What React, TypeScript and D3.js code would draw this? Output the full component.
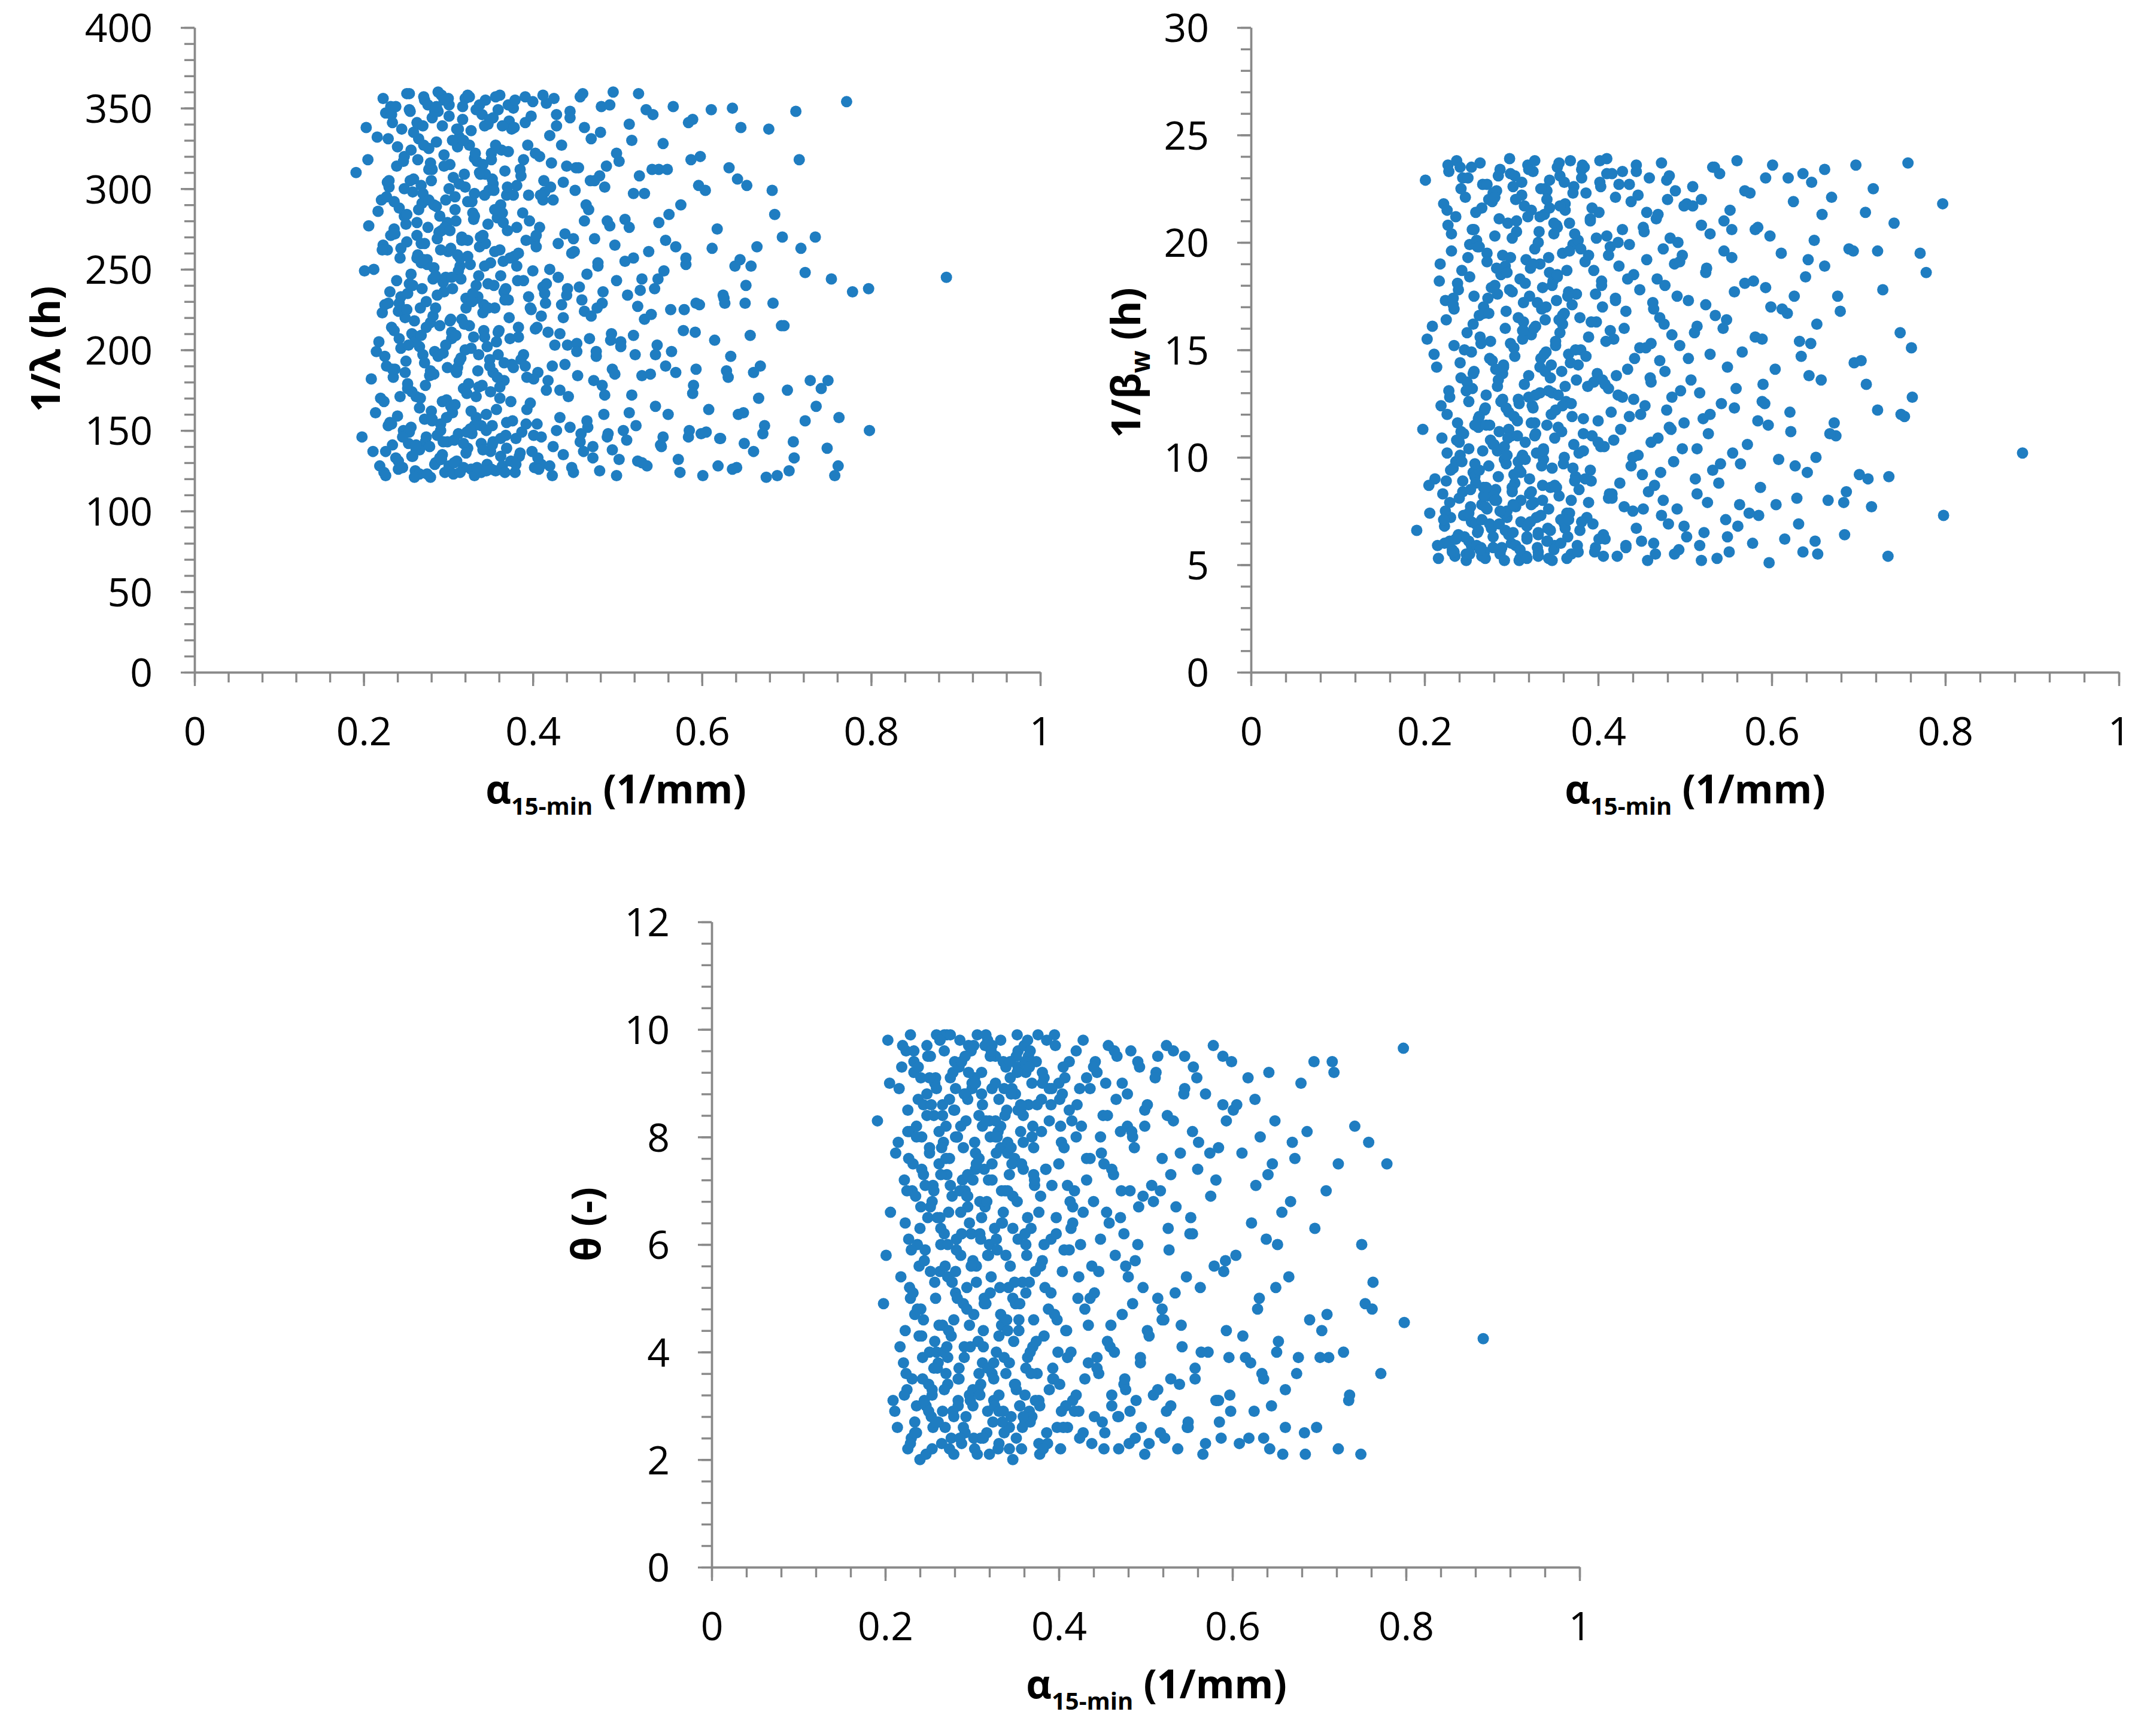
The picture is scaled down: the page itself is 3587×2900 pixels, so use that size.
import React, { useEffect, useRef } from "react";
import * as d3 from "d3";

// alpha 15-min (1/mm), one value per sample (shared by all three panels)
const alphaMin15 = [
  0.191, 0.198, 0.203, 0.206, 0.209, 0.212, 0.214, 0.216, 0.218, 0.219, 0.221, 0.222, 0.223, 0.224, 0.226, 0.227, 0.228, 0.229, 0.231, 0.232,
  0.201, 0.205, 0.211, 0.215, 0.217, 0.220, 0.223, 0.225, 0.226, 0.228, 0.230, 0.231, 0.233, 0.234, 0.235, 0.236, 0.238, 0.239, 0.240, 0.242,
  0.224, 0.227, 0.229, 0.232, 0.234, 0.236, 0.237, 0.239, 0.241, 0.243, 0.244, 0.245, 0.247, 0.248, 0.249, 0.251, 0.252, 0.254, 0.255, 0.257,
  0.233, 0.236, 0.240, 0.242, 0.244, 0.246, 0.248, 0.250, 0.251, 0.253, 0.254, 0.256, 0.257, 0.259, 0.260, 0.262, 0.263, 0.265, 0.266, 0.268,
  0.241, 0.244, 0.247, 0.249, 0.252, 0.254, 0.256, 0.258, 0.259, 0.261, 0.263, 0.264, 0.266, 0.267, 0.269, 0.270, 0.272, 0.273, 0.275, 0.277,
  0.251, 0.254, 0.257, 0.259, 0.262, 0.264, 0.266, 0.268, 0.269, 0.271, 0.272, 0.274, 0.276, 0.277, 0.279, 0.280, 0.281, 0.283, 0.284, 0.286,
  0.261, 0.263, 0.266, 0.268, 0.270, 0.272, 0.274, 0.276, 0.278, 0.279, 0.281, 0.282, 0.284, 0.286, 0.287, 0.289, 0.290, 0.292, 0.293, 0.295,
  0.271, 0.273, 0.275, 0.278, 0.280, 0.282, 0.284, 0.285, 0.287, 0.288, 0.290, 0.291, 0.293, 0.294, 0.296, 0.297, 0.299, 0.300, 0.302, 0.304,
  0.281, 0.283, 0.285, 0.288, 0.290, 0.292, 0.294, 0.295, 0.297, 0.298, 0.300, 0.301, 0.303, 0.304, 0.306, 0.307, 0.309, 0.310, 0.312, 0.314,
  0.291, 0.293, 0.295, 0.297, 0.299, 0.301, 0.303, 0.305, 0.306, 0.308, 0.309, 0.311, 0.312, 0.314, 0.316, 0.317, 0.318, 0.320, 0.321, 0.323,
  0.301, 0.303, 0.305, 0.308, 0.310, 0.312, 0.313, 0.315, 0.316, 0.318, 0.319, 0.321, 0.323, 0.324, 0.326, 0.327, 0.328, 0.330, 0.331, 0.333,
  0.311, 0.313, 0.315, 0.318, 0.320, 0.322, 0.323, 0.325, 0.327, 0.328, 0.330, 0.331, 0.333, 0.334, 0.336, 0.337, 0.339, 0.340, 0.342, 0.343,
  0.321, 0.323, 0.325, 0.327, 0.329, 0.331, 0.333, 0.334, 0.336, 0.338, 0.339, 0.341, 0.342, 0.344, 0.345, 0.347, 0.348, 0.350, 0.351, 0.353,
  0.331, 0.333, 0.335, 0.337, 0.339, 0.341, 0.343, 0.344, 0.346, 0.347, 0.349, 0.350, 0.352, 0.353, 0.355, 0.356, 0.358, 0.359, 0.361, 0.362,
  0.341, 0.343, 0.345, 0.347, 0.349, 0.351, 0.352, 0.354, 0.356, 0.357, 0.359, 0.360, 0.362, 0.363, 0.365, 0.366, 0.368, 0.369, 0.371, 0.372,
  0.351, 0.353, 0.355, 0.357, 0.359, 0.361, 0.362, 0.364, 0.366, 0.367, 0.369, 0.370, 0.372, 0.374, 0.375, 0.377, 0.378, 0.380, 0.381, 0.383,
  0.361, 0.364, 0.367, 0.369, 0.371, 0.373, 0.375, 0.377, 0.379, 0.381, 0.383, 0.385, 0.387, 0.389, 0.391, 0.393, 0.395, 0.397, 0.399, 0.402,
  0.381, 0.384, 0.386, 0.389, 0.391, 0.393, 0.396, 0.398, 0.400, 0.402, 0.404, 0.406, 0.408, 0.410, 0.412, 0.414, 0.416, 0.418, 0.420, 0.423,
  0.401, 0.403, 0.405, 0.408, 0.410, 0.412, 0.414, 0.416, 0.418, 0.420, 0.422, 0.424, 0.426, 0.428, 0.430, 0.432, 0.434, 0.436, 0.438, 0.441,
  0.421, 0.423, 0.425, 0.428, 0.430, 0.432, 0.434, 0.436, 0.438, 0.440, 0.442, 0.444, 0.446, 0.448, 0.450, 0.452, 0.454, 0.456, 0.458, 0.461,
  0.441, 0.444, 0.446, 0.449, 0.451, 0.453, 0.455, 0.457, 0.459, 0.461, 0.463, 0.465, 0.467, 0.469, 0.471, 0.473, 0.475, 0.477, 0.479, 0.482,
  0.461, 0.464, 0.466, 0.469, 0.471, 0.473, 0.475, 0.477, 0.479, 0.481, 0.483, 0.485, 0.487, 0.489, 0.491, 0.493, 0.495, 0.497, 0.499, 0.502,
  0.482, 0.485, 0.488, 0.491, 0.494, 0.497, 0.499, 0.502, 0.504, 0.507, 0.509, 0.512, 0.514, 0.517, 0.519, 0.521, 0.524, 0.526, 0.529, 0.532,
  0.511, 0.514, 0.517, 0.519, 0.522, 0.525, 0.527, 0.529, 0.532, 0.535, 0.537, 0.540, 0.542, 0.545, 0.547, 0.549, 0.552, 0.555, 0.557, 0.561,
  0.541, 0.545, 0.548, 0.551, 0.554, 0.557, 0.560, 0.563, 0.566, 0.569, 0.572, 0.575, 0.578, 0.581, 0.584, 0.587, 0.590, 0.593, 0.596, 0.599,
  0.581, 0.585, 0.589, 0.593, 0.597, 0.601, 0.604, 0.608, 0.611, 0.615, 0.618, 0.622, 0.625, 0.629, 0.632, 0.636, 0.639, 0.643, 0.646, 0.651,
  0.621, 0.626, 0.631, 0.636, 0.641, 0.645, 0.649, 0.653, 0.657, 0.661, 0.665, 0.669, 0.674, 0.679, 0.684, 0.689, 0.695, 0.701, 0.708, 0.715,
  0.652, 0.661, 0.672, 0.683, 0.694, 0.703, 0.711, 0.717, 0.722, 0.728, 0.734, 0.741, 0.748, 0.753, 0.757, 0.762, 0.771, 0.778, 0.797, 0.889,
  0.222, 0.226, 0.230, 0.234, 0.238, 0.242, 0.246, 0.250, 0.253, 0.256, 0.260, 0.263, 0.267, 0.270, 0.274, 0.277, 0.281, 0.285, 0.288, 0.292,
  0.225, 0.229, 0.233, 0.237, 0.241, 0.245, 0.248, 0.252, 0.255, 0.258, 0.262, 0.265, 0.268, 0.272, 0.275, 0.279, 0.283, 0.287, 0.291, 0.295,
  0.296, 0.299, 0.302, 0.305, 0.308, 0.311, 0.314, 0.317, 0.320, 0.323, 0.326, 0.329, 0.332, 0.335, 0.338, 0.341, 0.344, 0.347, 0.350, 0.353,
  0.298, 0.301, 0.304, 0.307, 0.310, 0.313, 0.316, 0.319, 0.322, 0.325, 0.328, 0.331, 0.334, 0.337, 0.340, 0.343, 0.346, 0.349, 0.352, 0.355,
  0.356, 0.359, 0.362, 0.365, 0.368, 0.371, 0.374, 0.377, 0.380, 0.383, 0.386, 0.389, 0.392, 0.395, 0.398, 0.401, 0.404, 0.407, 0.410, 0.413,
  0.358, 0.361, 0.364, 0.367, 0.370, 0.373, 0.376, 0.379, 0.382, 0.385, 0.388, 0.391, 0.394, 0.397, 0.400, 0.403, 0.406, 0.409, 0.412, 0.415,
  0.416, 0.420, 0.424, 0.428, 0.432, 0.436, 0.440, 0.444, 0.448, 0.452, 0.456, 0.460, 0.464, 0.468, 0.472, 0.476, 0.480, 0.484, 0.488, 0.492,
  0.494, 0.499, 0.504, 0.509, 0.514, 0.519, 0.524, 0.529, 0.534, 0.539, 0.544, 0.549, 0.554, 0.559, 0.564, 0.569, 0.574, 0.579, 0.584, 0.589,
  0.236, 0.243, 0.251, 0.258, 0.264, 0.271, 0.279, 0.286, 0.294, 0.302, 0.309, 0.318, 0.327, 0.336, 0.345, 0.354, 0.366, 0.378, 0.392, 0.405,
  0.592, 0.598, 0.605, 0.612, 0.619, 0.627, 0.634, 0.642, 0.650, 0.658, 0.667, 0.676, 0.686, 0.697, 0.709, 0.722, 0.735, 0.749, 0.761, 0.798,
];

// 1/lambda (h)
const invLambda = [
  310, 146, 338, 277, 182, 250, 161, 332, 205, 128, 293, 223, 265, 124, 347, 190, 304, 153, 236, 271,
  249, 318, 137, 199, 286, 170, 356, 228, 122, 262, 301, 155, 214, 341, 183, 275, 133, 243, 326, 207,
  168, 295, 229, 351, 141, 272, 188, 314, 126, 257, 201, 337, 150, 283, 220, 359, 176, 241, 305, 134,
  346, 212, 159, 288, 233, 127, 320, 193, 267, 142, 359, 247, 174, 306, 218, 138, 279, 331, 202, 254,
  131, 263, 317, 186, 235, 349, 152, 298, 209, 125, 271, 340, 164, 226, 291, 197, 355, 143, 256, 312,
  284, 149, 210, 335, 171, 259, 123, 302, 238, 357, 192, 146, 276, 325, 217, 162, 344, 251, 129, 289,
  205, 341, 138, 266, 297, 157, 230, 352, 184, 121, 312, 244, 199, 329, 147, 273, 215, 358, 168, 236,
  327, 178, 253, 140, 305, 221, 348, 130, 269, 196, 283, 154, 339, 242, 124, 293, 189, 261, 315, 207,
  156, 290, 226, 348, 133, 274, 198, 321, 245, 169, 356, 128, 263, 211, 307, 144, 280, 186, 337, 252,
  262, 135, 314, 203, 279, 352, 165, 238, 123, 295, 187, 326, 148, 257, 219, 343, 176, 301, 232, 139,
  345, 219, 161, 287, 131, 249, 332, 195, 270, 142, 309, 226, 358, 179, 253, 126, 292, 208, 319, 158,
  189, 303, 244, 127, 356, 173, 268, 215, 336, 148, 281, 122, 240, 317, 197, 264, 153, 346, 228, 296,
  136, 258, 327, 201, 285, 153, 349, 232, 177, 309, 124, 271, 212, 355, 160, 241, 299, 137, 322, 186,
  297, 171, 233, 352, 142, 315, 208, 266, 129, 340, 190, 254, 153, 303, 226, 125, 282, 197, 358, 246,
  223, 339, 150, 278, 194, 126, 306, 240, 357, 163, 287, 212, 134, 324, 255, 181, 147, 296, 231, 342,
  318, 143, 261, 205, 349, 177, 290, 128, 236, 311, 155, 274, 220, 131, 337, 189, 258, 145, 302, 214,
  170, 285, 231, 139, 323, 257, 191, 350, 124, 276, 208, 312, 149, 243, 357, 183, 296, 226, 137, 268,
  252, 134, 308, 197, 341, 163, 280, 225, 354, 127, 264, 186, 320, 146, 239, 298, 175, 211, 333, 122,
  147, 322, 214, 276, 129, 293, 235, 353, 181, 250, 316, 140, 203, 339, 266, 158, 228, 304, 191, 238,
  301, 190, 356, 150, 245, 210, 327, 135, 272, 234, 171, 348, 260, 124, 299, 204, 313, 143, 231, 280,
  203, 344, 127, 261, 313, 184, 239, 148, 359, 224, 290, 152, 207, 331, 133, 269, 196, 252, 308, 178,
  338, 156, 287, 221, 140, 305, 199, 254, 125, 351, 236, 172, 314, 148, 277, 210, 360, 185, 243, 132,
  229, 301, 146, 352, 188, 265, 122, 317, 205, 150, 281, 234, 340, 172, 257, 197, 131, 308, 244, 219,
  144, 276, 330, 209, 153, 359, 237, 184, 297, 128, 261, 222, 346, 165, 203, 312, 140, 249, 190, 284,
  312, 197, 244, 141, 328, 268, 160, 225, 351, 186, 132, 290, 212, 253, 146, 318, 178, 229, 302, 148,
  257, 150, 343, 188, 228, 122, 299, 163, 349, 206, 275, 145, 234, 187, 313, 126, 252, 160, 338, 229,
  145, 232, 183, 350, 127, 256, 161, 302, 209, 137, 264, 190, 153, 337, 229, 122, 270, 175, 143, 318,
  240, 186, 148, 299, 215, 125, 348, 263, 156, 181, 270, 176, 139, 244, 122, 158, 354, 236, 238, 245,
  262, 137, 305, 188, 351, 229, 146, 278, 203, 324, 121, 257, 170, 339, 214, 293, 157, 246, 360, 132,
  196, 331, 154, 272, 224, 127, 300, 179, 348, 240, 141, 287, 209, 266, 123, 316, 185, 234, 150, 355,
  276, 143, 218, 330, 166, 259, 124, 351, 200, 292, 151, 235, 322, 187, 270, 138, 309, 226, 174, 344,
  158, 300, 245, 130, 337, 193, 268, 216, 149, 357, 230, 283, 127, 310, 178, 252, 202, 343, 141, 287,
  327, 211, 145, 279, 238, 352, 168, 296, 129, 260, 194, 318, 154, 233, 345, 182, 271, 126, 221, 305,
  183, 262, 339, 124, 301, 207, 156, 355, 243, 136, 285, 190, 327, 167, 249, 213, 133, 296, 358, 229,
  241, 128, 293, 346, 175, 220, 314, 152, 269, 199, 357, 137, 247, 305, 181, 226, 335, 160, 280, 206,
  138, 322, 202, 255, 161, 297, 227, 130, 349, 185, 238, 279, 146, 312, 199, 264, 124, 225, 341, 173,
  292, 171, 225, 134, 318, 256, 187, 351, 143, 274, 209, 330, 162, 246, 125, 299, 192, 338, 268, 154,
  211, 320, 149, 263, 128, 229, 196, 306, 142, 252, 170, 121, 284, 215, 133, 248, 165, 181, 128, 150,
];

// 1/beta_w (h)
const invBetaW = [
  6.6, 11.3, 15.5, 7.4, 16.1, 9.0, 14.2, 5.3, 19.0, 12.4, 8.3, 21.8, 6.0, 17.3, 10.2, 23.6, 13.1, 7.9, 20.4, 5.6,
  22.9, 8.7, 14.8, 5.9, 18.2, 10.9, 6.8, 16.4, 12.0, 23.3, 7.2, 19.6, 9.5, 15.2, 5.4, 21.2, 11.6, 17.8, 8.1, 13.7,
  7.5, 20.8, 12.8, 5.7, 16.9, 9.8, 23.8, 6.4, 14.4, 18.7, 8.9, 11.1, 22.1, 5.2, 15.8, 10.4, 19.9, 7.0, 13.2, 17.5,
  17.1, 6.2, 10.7, 22.5, 8.4, 15.0, 5.5, 19.3, 12.6, 7.7, 23.5, 9.3, 14.0, 6.9, 20.1, 11.8, 16.6, 5.8, 21.6, 8.6,
  10.1, 23.0, 7.3, 13.5, 18.4, 5.9, 16.2, 9.1, 21.4, 6.5, 11.9, 15.6, 7.8, 22.7, 12.2, 5.3, 19.5, 8.2, 14.6, 17.9,
  6.1, 14.9, 20.6, 8.8, 11.4, 23.7, 7.1, 17.0, 5.6, 12.9, 19.1, 9.6, 15.4, 6.7, 22.3, 10.6, 18.0, 8.0, 13.3, 21.1,
  19.8, 9.4, 5.4, 16.7, 12.3, 7.6, 22.0, 10.8, 14.5, 6.3, 20.3, 8.5, 17.6, 11.2, 23.4, 5.8, 13.9, 9.9, 18.9, 7.2,
  11.5, 17.4, 6.9, 21.9, 8.2, 14.1, 10.3, 23.1, 5.5, 18.5, 12.7, 7.4, 16.0, 9.7, 20.9, 6.4, 15.3, 11.0, 22.6, 8.8,
  8.0, 22.4, 13.6, 5.7, 19.4, 10.5, 16.8, 7.5, 12.1, 23.9, 6.0, 17.7, 9.2, 14.7, 21.0, 11.7, 5.2, 18.3, 10.0, 15.9,
  14.3, 6.6, 18.6, 11.3, 23.2, 8.6, 15.1, 5.9, 20.5, 9.8, 12.5, 7.0, 22.2, 16.3, 10.7, 19.2, 6.2, 13.8, 8.3, 21.5,
  20.2, 11.9, 7.7, 16.5, 5.3, 22.8, 10.1, 13.4, 18.1, 6.8, 23.6, 9.0, 15.7, 12.4, 7.9, 19.7, 11.1, 17.2, 5.6, 14.2,
  9.3, 15.5, 21.7, 6.3, 12.8, 18.8, 8.4, 23.3, 11.6, 16.1, 5.8, 20.0, 13.0, 7.3, 17.9, 10.4, 22.5, 14.9, 6.7, 19.3,
  17.5, 7.8, 12.3, 23.8, 10.2, 5.4, 19.0, 14.6, 8.7, 21.3, 16.4, 11.5, 6.1, 22.9, 13.7, 9.5, 18.2, 5.9, 15.2, 20.7,
  6.5, 21.2, 16.9, 9.9, 14.0, 22.4, 7.6, 18.6, 12.0, 5.2, 20.4, 10.9, 17.3, 23.5, 8.2, 15.8, 11.2, 19.5, 6.9, 13.3,
  22.0, 13.1, 8.6, 18.0, 5.7, 15.4, 20.8, 11.4, 23.1, 7.1, 16.6, 9.7, 21.8, 12.6, 6.3, 17.7, 14.4, 8.0, 19.9, 10.6,
  12.2, 18.4, 23.7, 6.0, 16.2, 10.0, 21.5, 7.4, 14.8, 19.6, 5.5, 17.1, 22.6, 9.1, 13.6, 20.1, 8.5, 15.0, 23.0, 11.8,
  16.7, 5.3, 20.9, 12.5, 22.3, 8.9, 17.6, 14.3, 6.6, 23.4, 10.3, 19.1, 7.2, 15.6, 21.0, 11.0, 18.7, 5.8, 13.9, 23.8,
  7.0, 23.5, 14.7, 19.4, 9.4, 21.6, 5.6, 16.3, 11.7, 22.8, 18.2, 6.4, 13.4, 20.3, 8.1, 15.9, 23.2, 10.8, 17.4, 12.9,
  21.4, 10.5, 17.0, 6.2, 23.9, 13.2, 19.8, 8.3, 15.5, 22.1, 5.4, 18.9, 11.3, 20.6, 7.7, 16.8, 14.1, 22.7, 9.6, 12.7,
  13.8, 20.0, 8.8, 23.3, 16.0, 5.9, 18.3, 11.9, 21.9, 7.5, 14.6, 23.6, 10.1, 17.8, 6.1, 20.7, 12.4, 19.2, 8.4, 15.3,
  18.5, 6.7, 22.2, 12.0, 9.2, 20.5, 15.1, 5.2, 23.0, 13.5, 17.2, 8.7, 21.1, 10.9, 16.5, 7.3, 19.7, 14.0, 22.9, 11.4,
  10.7, 16.9, 5.5, 21.3, 14.5, 23.7, 8.0, 18.0, 12.2, 6.9, 20.2, 15.7, 9.8, 22.4, 17.5, 5.7, 13.1, 19.4, 11.6, 21.8,
  23.1, 12.8, 19.0, 7.6, 15.2, 10.4, 21.7, 6.3, 17.3, 13.6, 22.6, 9.0, 16.1, 5.9, 20.8, 11.8, 18.6, 7.9, 14.8, 23.5,
  15.8, 8.3, 13.0, 22.0, 6.5, 18.8, 11.1, 20.4, 9.4, 16.6, 5.3, 23.2, 12.5, 19.6, 7.1, 14.2, 21.5, 10.2, 17.7, 6.8,
  9.7, 21.0, 16.4, 5.6, 19.3, 12.3, 23.8, 7.8, 14.9, 18.1, 10.6, 22.3, 6.0, 15.6, 20.7, 8.6, 13.4, 23.0, 11.5, 17.0,
  20.6, 7.3, 12.6, 17.9, 5.1, 23.6, 14.1, 9.9, 19.5, 6.2, 16.7, 11.2, 21.9, 8.1, 15.4, 5.6, 18.4, 13.8, 22.8, 10.0,
  12.1, 17.5, 6.9, 23.2, 9.3, 15.3, 20.1, 5.5, 13.6, 18.9, 8.0, 22.1, 11.0, 16.8, 6.4, 19.7, 14.4, 9.2, 21.4, 7.7,
  16.2, 23.4, 11.6, 7.9, 19.6, 14.5, 9.0, 22.5, 12.2, 17.8, 5.4, 20.9, 15.8, 11.9, 23.7, 12.8, 19.5, 18.6, 21.8, 10.2,
  7.1, 21.5, 9.4, 5.6, 18.1, 11.2, 6.3, 23.0, 8.5, 13.9, 5.9, 19.8, 10.3, 7.7, 16.7, 6.8, 22.1, 9.1, 12.6, 5.2,
  8.9, 6.1, 17.4, 10.8, 23.5, 7.3, 13.1, 5.5, 20.6, 9.7, 6.6, 15.3, 8.2, 22.7, 11.5, 5.8, 18.8, 7.5, 14.2, 10.1,
  10.9, 19.3, 6.5, 22.0, 12.7, 8.0, 17.2, 5.4, 23.4, 11.6, 16.0, 7.2, 20.5, 9.6, 14.8, 6.1, 21.6, 13.0, 8.7, 18.5,
  17.8, 8.4, 23.1, 11.0, 5.7, 15.9, 9.9, 21.2, 7.0, 19.0, 12.9, 6.4, 22.5, 10.3, 17.0, 5.3, 14.3, 20.9, 8.6, 16.4,
  21.7, 12.4, 6.7, 17.5, 23.8, 9.5, 15.0, 5.6, 19.7, 11.1, 22.3, 7.9, 16.3, 13.5, 20.2, 6.2, 18.0, 10.5, 23.2, 8.3,
  14.0, 22.8, 18.7, 7.4, 11.9, 20.4, 5.9, 16.5, 23.6, 9.0, 13.3, 21.1, 6.9, 17.6, 10.7, 22.6, 5.4, 15.4, 19.4, 12.1,
  8.1, 17.3, 22.7, 12.8, 5.8, 19.9, 10.0, 23.3, 15.1, 7.6, 21.4, 13.7, 6.0, 18.3, 9.3, 16.2, 22.0, 11.3, 5.5, 20.0,
  19.1, 6.8, 14.6, 21.7, 10.4, 5.2, 17.1, 12.0, 23.5, 8.8, 16.0, 6.3, 20.6, 13.2, 9.7, 22.4, 7.4, 18.2, 11.7, 15.5,
  6.2, 9.8, 7.4, 11.5, 5.7, 8.6, 10.6, 6.9, 12.3, 7.8, 9.4, 5.3, 11.0, 8.0, 6.6, 12.9, 7.1, 10.2, 8.9, 13.6,
  12.5, 20.3, 7.8, 16.9, 23.0, 9.6, 14.7, 19.2, 6.1, 21.3, 11.1, 17.5, 8.4, 23.6, 13.4, 19.6, 9.1, 12.0, 15.1, 7.3,
];

// theta (-)
const thetaVals = [
  8.3, 4.9, 9.8, 6.6, 3.1, 7.7, 2.6, 8.9, 5.4, 9.3, 3.8, 7.2, 4.4, 9.6, 2.2, 6.1, 8.1, 5.0, 3.5, 7.5,
  5.8, 9.0, 2.9, 7.9, 4.1, 9.7, 6.4, 3.3, 8.5, 5.2, 2.4, 7.0, 9.4, 4.7, 6.9, 3.0, 8.7, 5.6, 2.0, 7.4,
  3.6, 7.6, 9.9, 5.1, 2.7, 8.2, 6.0, 4.3, 9.1, 3.9, 7.3, 5.7, 2.1, 8.8, 6.5, 4.0, 9.5, 3.2, 7.1, 5.3,
  9.2, 2.5, 6.3, 8.0, 4.6, 5.9, 9.7, 3.4, 7.8, 2.8, 6.8, 8.4, 4.2, 9.9, 3.7, 7.5, 5.5, 2.3, 8.6, 6.2,
  4.8, 8.6, 3.0, 9.5, 6.7, 2.2, 7.0, 5.0, 8.9, 3.8, 9.8, 6.0, 4.5, 7.9, 2.6, 8.2, 3.4, 6.6, 9.1, 5.3,
  7.7, 3.3, 9.0, 4.0, 8.1, 6.3, 2.9, 9.9, 5.6, 7.3, 3.9, 8.7, 2.4, 6.9, 4.6, 9.4, 5.1, 8.0, 3.1, 7.0,
  2.7, 6.5, 8.4, 9.6, 3.6, 5.4, 7.6, 4.3, 9.2, 2.1, 8.0, 6.1, 3.0, 9.8, 5.8, 7.2, 4.9, 2.5, 8.8, 6.7,
  9.9, 4.4, 7.1, 2.9, 8.5, 5.9, 3.5, 9.3, 6.6, 2.3, 7.8, 4.1, 8.3, 5.2, 9.7, 3.2, 6.2, 8.9, 4.7, 7.4,
  5.5, 8.0, 3.7, 9.4, 2.6, 7.0, 4.8, 8.7, 6.4, 3.1, 9.0, 5.7, 2.2, 7.7, 9.9, 4.2, 6.8, 3.4, 8.2, 5.0,
  8.8, 2.8, 6.9, 4.5, 9.6, 3.3, 7.9, 5.3, 2.1, 8.4, 6.2, 9.2, 3.8, 7.4, 4.9, 2.5, 9.8, 6.0, 8.0, 3.6,
  3.0, 9.1, 5.6, 7.6, 2.4, 8.6, 4.4, 6.7, 9.9, 3.7, 7.2, 5.1, 8.9, 2.7, 6.3, 9.5, 4.0, 8.1, 3.2, 7.8,
  6.5, 4.1, 9.7, 2.9, 8.3, 5.4, 7.5, 3.5, 9.0, 6.1, 2.2, 8.7, 4.7, 7.0, 9.4, 3.9, 5.8, 8.5, 2.6, 7.3,
  9.5, 7.2, 3.1, 8.0, 5.9, 2.3, 9.8, 4.5, 6.6, 8.4, 3.6, 7.7, 5.2, 9.1, 2.8, 6.9, 4.2, 8.8, 3.3, 9.6,
  4.3, 8.2, 6.4, 2.5, 9.3, 7.0, 3.8, 5.6, 8.9, 2.0, 7.6, 4.9, 9.9, 6.1, 3.0, 8.5, 5.3, 7.9, 2.7, 9.2,
  7.9, 2.6, 8.8, 5.0, 3.4, 9.5, 6.8, 4.4, 8.1, 2.2, 7.4, 9.7, 3.7, 5.8, 8.6, 2.9, 6.3, 9.0, 4.6, 7.1,
  2.4, 9.3, 4.9, 7.5, 8.4, 3.2, 6.0, 9.8, 5.3, 2.7, 8.0, 4.1, 7.2, 9.4, 3.6, 6.6, 2.1, 8.7, 5.7, 9.1,
  6.2, 3.9, 9.6, 2.8, 7.8, 5.5, 8.6, 3.1, 6.9, 9.2, 4.3, 7.4, 2.3, 8.9, 5.1, 3.5, 9.9, 6.5, 4.0, 8.2,
  9.0, 5.2, 2.5, 8.3, 6.1, 3.7, 9.7, 4.6, 7.5, 2.2, 8.8, 5.9, 3.0, 7.1, 9.4, 4.0, 6.7, 2.9, 8.0, 5.4,
  3.4, 7.9, 9.3, 4.4, 2.6, 8.5, 6.3, 3.1, 7.0, 9.6, 5.0, 2.4, 8.2, 6.6, 4.8, 9.1, 3.8, 7.6, 5.6, 2.8,
  8.6, 2.9, 6.0, 9.8, 3.5, 7.2, 4.5, 8.9, 2.3, 6.8, 9.4, 3.9, 5.5, 8.0, 2.7, 7.5, 9.0, 4.2, 6.4, 3.2,
  5.1, 9.2, 3.6, 7.7, 8.4, 2.5, 6.6, 9.7, 4.1, 3.0, 7.3, 5.8, 9.5, 2.2, 8.1, 4.7, 6.2, 3.3, 8.8, 7.0,
  7.4, 4.0, 8.7, 2.8, 6.5, 9.0, 3.4, 5.6, 8.2, 2.3, 9.6, 4.9, 7.8, 3.1, 6.0, 9.3, 2.6, 5.2, 8.5, 4.4,
  2.9, 8.0, 5.7, 9.4, 3.8, 6.9, 2.1, 8.6, 4.3, 7.1, 3.2, 9.2, 5.0, 2.5, 7.6, 4.6, 9.7, 6.3, 3.5, 8.3,
  9.1, 3.3, 7.0, 4.8, 2.4, 8.4, 5.9, 3.0, 9.6, 6.7, 2.2, 7.7, 4.1, 8.9, 5.4, 2.7, 6.5, 9.3, 3.7, 7.9,
  4.5, 9.5, 2.6, 6.2, 8.1, 3.5, 7.4, 5.2, 2.1, 8.8, 4.0, 6.9, 9.7, 3.1, 7.8, 2.4, 5.5, 8.3, 3.9, 9.4,
  7.2, 2.7, 9.5, 4.4, 3.2, 8.5, 5.8, 2.3, 7.7, 3.9, 9.1, 6.4, 2.9, 4.8, 8.0, 3.5, 6.1, 2.2, 7.5, 4.0,
  3.8, 8.7, 5.0, 2.4, 7.3, 3.0, 8.3, 4.2, 6.6, 2.6, 5.4, 7.9, 3.6, 9.0, 2.1, 4.6, 6.3, 3.9, 7.0, 9.4,
  6.0, 3.3, 7.6, 2.5, 9.4, 4.4, 3.9, 9.2, 2.2, 4.0, 3.1, 8.2, 2.1, 4.9, 7.9, 5.3, 3.6, 7.5, 9.65, 4.25,
  3.2, 8.1, 5.9, 2.5, 9.3, 4.3, 7.1, 2.9, 8.6, 3.7, 6.5, 9.8, 4.0, 7.6, 2.2, 5.3, 8.9, 3.5, 6.2, 9.5,
  7.0, 2.3, 9.6, 4.8, 6.7, 3.1, 8.4, 5.5, 2.6, 9.1, 4.5, 7.8, 3.3, 6.0, 9.9, 2.8, 5.0, 8.2, 3.9, 7.3,
  9.2, 5.6, 2.4, 7.5, 3.6, 8.8, 4.9, 6.8, 2.1, 9.7, 3.0, 8.0, 5.2, 2.7, 7.0, 4.4, 9.4, 6.3, 3.4, 8.5,
  4.1, 7.2, 9.0, 3.3, 6.1, 2.4, 8.3, 5.8, 9.6, 3.8, 7.7, 2.9, 6.4, 8.9, 4.6, 2.2, 7.5, 5.3, 9.2, 3.0,
  8.6, 2.8, 5.1, 9.5, 3.6, 7.3, 4.2, 2.3, 8.1, 6.0, 9.8, 3.3, 7.1, 4.7, 2.6, 8.7, 5.5, 9.1, 3.9, 6.8,
  2.6, 9.4, 6.5, 4.0, 8.2, 3.1, 9.9, 5.6, 2.2, 7.4, 4.8, 8.6, 3.5, 6.2, 9.0, 2.9, 7.8, 4.4, 5.9, 8.3,
  6.4, 3.2, 8.9, 2.5, 7.6, 5.0, 9.3, 3.7, 6.1, 2.2, 8.4, 4.5, 9.6, 2.8, 7.0, 3.5, 5.4, 8.1, 2.4, 6.7,
  3.9, 8.2, 2.3, 6.8, 9.5, 4.6, 2.9, 7.3, 5.1, 3.4, 8.8, 2.6, 6.2, 9.1, 4.0, 2.3, 7.7, 5.6, 3.1, 8.6,
  8.0, 3.5, 9.1, 2.7, 7.3, 4.1, 8.5, 2.4, 6.9, 9.7, 3.2, 5.8, 8.3, 2.9, 7.8, 4.6, 9.3, 3.0, 8.9, 2.6,
  5.7, 2.9, 8.6, 4.3, 2.4, 7.1, 3.6, 9.2, 5.2, 2.1, 6.8, 3.9, 8.1, 2.6, 4.7, 7.5, 3.2, 6.0, 4.8, 4.55,
];

// tick labels
const xTicks = [0, 0.2, 0.4, 0.6, 0.8, 1];
const lambdaTicks = [0, 50, 100, 150, 200, 250, 300, 350, 400];
const betaTicks = [0, 5, 10, 15, 20, 25, 30];
const thetaTicks = [0, 2, 4, 6, 8, 10, 12];

const W = 3587;
const H = 2900;
const DOT = "#1f7dc1";
const AXIS = "#898989";
const FONT = "'Open Sans', 'Noto Sans', 'DejaVu Sans', sans-serif";

interface Panel {
  ys: number[];
  yTicks: number[];
  yMinorStep: number;
  left: number;
  right: number;
  top: number;
  bottom: number;
  xTitleX: number;
  yTitleX: number;
  yTitleY: number;
  yTitle: [string, string, string];
}

const panels: Panel[] = [
  {
    ys: invLambda, yTicks: lambdaTicks, yMinorStep: 10,
    left: 325, right: 1738, top: 46, bottom: 1123,
    xTitleX: 1029, yTitleX: 100, yTitleY: 583,
    yTitle: ["1/λ", "", " (h)"],
  },
  {
    ys: invBetaW, yTicks: betaTicks, yMinorStep: 1,
    left: 2090, right: 3540, top: 46, bottom: 1123,
    xTitleX: 2832, yTitleX: 1905, yTitleY: 606,
    yTitle: ["1/β", "w", " (h)"],
  },
  {
    ys: thetaVals, yTicks: thetaTicks, yMinorStep: 0.4,
    left: 1189, right: 2639, top: 1540, bottom: 2618,
    xTitleX: 1932, yTitleX: 1003, yTitleY: 2045,
    yTitle: ["θ (-)", "", ""],
  },
];

export default function App() {
  const svgRef = useRef<SVGSVGElement>(null);

  useEffect(() => {
    if (!svgRef.current) return;
    document.body.style.margin = "0";
    const svg = d3.select(svgRef.current);
    svg.selectAll("*").remove();

    const styleAxis = (sel: d3.Selection<SVGGElement, unknown, null, undefined>) => {
      sel.selectAll("path, line").attr("stroke", AXIS).attr("stroke-width", 3.4);
      sel.attr("font-family", FONT).attr("font-size", 66);
      sel.selectAll("text").attr("fill", "#000");
    };

    panels.forEach((p) => {
      const yMax = p.yTicks[p.yTicks.length - 1];
      const x = d3.scaleLinear().domain([0, 1]).range([p.left, p.right]);
      const y = d3.scaleLinear().domain([0, yMax]).range([p.bottom, p.top]);
      const g = svg.append("g");

      // minor ticks
      const xMinor = d3.range(0, 25.5).map((i) => i * 0.04);
      const yMinor = d3.range(0, Math.round(yMax / p.yMinorStep) + 0.5).map((i) => i * p.yMinorStep);

      g.append("g")
        .attr("transform", `translate(0,${p.bottom})`)
        .call(d3.axisBottom(x).tickValues(xMinor).tickSize(17).tickSizeOuter(0).tickFormat(() => ""))
        .call(styleAxis);
      g.append("g")
        .attr("transform", `translate(${p.left},0)`)
        .call(d3.axisLeft(y).tickValues(yMinor).tickSize(17).tickSizeOuter(0).tickFormat(() => ""))
        .call(styleAxis);

      // major ticks + labels
      const xAx = g.append("g")
        .attr("transform", `translate(0,${p.bottom})`)
        .call(d3.axisBottom(x).tickValues(xTicks).tickSize(23).tickSizeOuter(0).tickFormat((d) => String(d)))
        .call(styleAxis);
      xAx.selectAll("text").attr("y", 122).attr("dy", null);

      const yAx = g.append("g")
        .attr("transform", `translate(${p.left},0)`)
        .call(d3.axisLeft(y).tickValues(p.yTicks).tickSize(23).tickSizeOuter(0).tickFormat((d) => String(d)))
        .call(styleAxis);
      yAx.selectAll("text").attr("x", -70).attr("dy", "0.36em");

      // points
      const n = Math.min(alphaMin15.length, p.ys.length);
      g.append("g")
        .selectAll("circle")
        .data(d3.range(n))
        .join("circle")
        .attr("cx", (i) => x(alphaMin15[i]))
        .attr("cy", (i) => y(p.ys[i]))
        .attr("r", 9.5)
        .attr("fill", DOT);

      // x title
      const xt = g.append("text")
        .attr("x", p.xTitleX)
        .attr("y", p.bottom + 219)
        .attr("text-anchor", "middle")
        .attr("font-family", FONT)
        .attr("font-weight", "bold")
        .attr("font-size", 66);
      xt.append("tspan").text("α");
      xt.append("tspan").attr("font-size", 40).attr("dy", 19).text("15-min");
      xt.append("tspan").attr("dy", -19).text(" (1/mm)");

      // y title
      const yt = g.append("text")
        .attr("transform", `translate(${p.yTitleX},${p.yTitleY}) rotate(-90)`)
        .attr("text-anchor", "middle")
        .attr("font-family", FONT)
        .attr("font-weight", "bold")
        .attr("font-size", 66);
      yt.append("tspan").text(p.yTitle[0]);
      if (p.yTitle[1]) {
        yt.append("tspan").attr("font-size", 44).attr("dy", 16).text(p.yTitle[1]);
        yt.append("tspan").attr("dy", -16).text(p.yTitle[2]);
      } else if (p.yTitle[2]) {
        yt.append("tspan").text(p.yTitle[2]);
      }
    });

    return () => {
      svg.selectAll("*").remove();
    };
  }, []);

  return <svg ref={svgRef} width={W} height={H} style={{ display: "block", background: "#fff" }} />;
}
